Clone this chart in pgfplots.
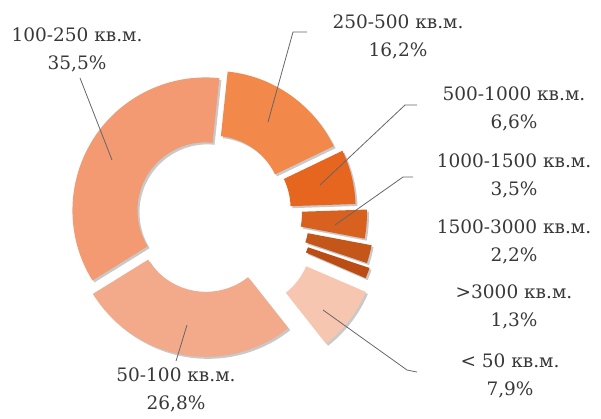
\documentclass[border=0pt]{standalone}
\usepackage{fontspec}
\setmainfont{DejaVu Serif}
\usepackage{pgfplots}
\usepackage{pgfplotstable}
\pgfplotsset{compat=1.18}
\usetikzlibrary{shadows}

\definecolor{cA}{HTML}{F2884A} % 250-500
\definecolor{cB}{HTML}{E6651F} % 500-1000
\definecolor{cC}{HTML}{D9611F} % 1000-1500
\definecolor{cD}{HTML}{C5561A} % 1500-3000
\definecolor{cE}{HTML}{BA4C14} % >3000
\definecolor{cF}{HTML}{F7C6B1} % <50
\definecolor{cG}{HTML}{F3AA8B} % 50-100
\definecolor{cH}{HTML}{F39A73} % 100-250
\definecolor{txt}{HTML}{383838}
\definecolor{lead}{HTML}{666666}

\tikzset{lbl/.style={text=txt, align=center, inner sep=0pt,
    font=\fontsize{18.5}{28}\selectfont}}

% share in %, explode (pt), colour; clockwise from the top
\pgfplotstableread{
value explode col
16.2 10 cA
6.6  15 cB
3.5  26 cC
2.2  34 cD
1.3  38 cE
7.9  45 cF
26.8 12 cG
35.5 3  cH
}\sizes

\begin{document}
\begin{tikzpicture}
\begin{axis}[
    scale only axis, width=601pt, height=418pt,
    xmin=0, xmax=601, ymin=0, ymax=418, y dir=reverse,
    hide axis, clip=false,
]
\def\startang{84}
\pgfplotsforeachungrouped \i in {0,...,7}{%
  \pgfplotstablegetelem{\i}{value}\of\sizes \let\v=\pgfplotsretval
  \pgfplotstablegetelem{\i}{explode}\of\sizes \let\e=\pgfplotsretval
  \pgfplotstablegetelem{\i}{col}\of\sizes \let\c=\pgfplotsretval
  \pgfmathsetmacro\aend{\startang-3.6*\v}%
  \pgfmathsetmacro\amid{(\startang+\aend)/2}%
  \edef\wedge{\noexpand\fill[\c, drop shadow={shadow xshift=2pt,
      shadow yshift=-2pt, opacity=0.3, fill=black!70}]
    (axis cs:208,212) ++(\amid:\e pt) ++(\startang:68pt)
    -- ++(\startang:65pt)
    arc[start angle=\startang, end angle=\aend, radius=133pt]
    -- ++(\aend:-65pt)
    arc[start angle=\aend, end angle=\startang, radius=68pt] -- cycle;}%
  \wedge
  \global\let\startang=\aend
}

% leader lines
\addplot[lead, line width=0.8pt] coordinates {(112,160) (80,78)};
\addplot[lead, line width=0.8pt] coordinates {(268,122) (293,32) (307,32)};
\addplot[lead, line width=0.8pt] coordinates {(320,185) (405,105) (417,105)};
\addplot[lead, line width=0.8pt] coordinates {(335,225) (403,177) (413,177)};
\addplot[lead, line width=0.8pt] coordinates {(323,310) (407,370) (417,372)};
\addplot[lead, line width=0.8pt] coordinates {(187,325) (176,361)};

\node[lbl] at (axis cs:77,50) {100-250 кв.м.\\35,5\%};
\node[lbl] at (axis cs:398,37) {250-500 кв.м.\\16,2\%};
\node[lbl] at (axis cs:514,109) {500-1000 кв.м.\\6,6\%};
\node[lbl] at (axis cs:514,176) {1000-1500 кв.м.\\3,5\%};
\node[lbl] at (axis cs:514,242) {1500-3000 кв.м.\\2,2\%};
\node[lbl] at (axis cs:514,307) {>3000 кв.м.\\1,3\%};
\node[lbl] at (axis cs:510,376) {< 50 кв.м.\\7,9\%};
\node[lbl] at (axis cs:176,390) {50-100 кв.м.\\26,8\%};
\end{axis}
\pgfresetboundingbox
\path[use as bounding box] (current axis.south west) rectangle (current axis.north east);
\end{tikzpicture}
\end{document}
